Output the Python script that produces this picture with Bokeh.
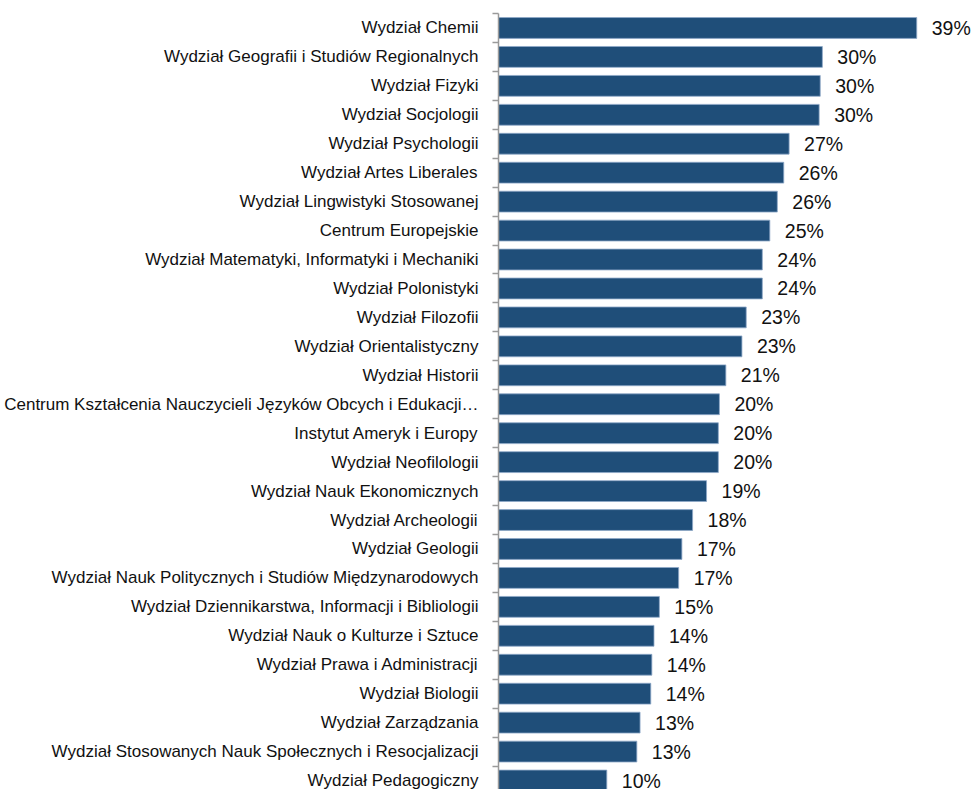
from bokeh.plotting import figure
from bokeh.models import ColumnDataSource, LabelSet, Range1d, FixedTicker
from bokeh.core.properties import value
from bokeh.embed import file_html
from bokeh.resources import INLINE

categories = [
    "Wydział Chemii",
    "Wydział Geografii i Studiów Regionalnych",
    "Wydział Fizyki",
    "Wydział Socjologii",
    "Wydział Psychologii",
    "Wydział Artes Liberales",
    "Wydział Lingwistyki Stosowanej",
    "Centrum Europejskie",
    "Wydział Matematyki, Informatyki i Mechaniki",
    "Wydział Polonistyki",
    "Wydział Filozofii",
    "Wydział Orientalistyczny",
    "Wydział Historii",
    "Centrum Kształcenia Nauczycieli Języków Obcych i Edukacji…",
    "Instytut Ameryk i Europy",
    "Wydział Neofilologii",
    "Wydział Nauk Ekonomicznych",
    "Wydział Archeologii",
    "Wydział Geologii",
    "Wydział Nauk Politycznych i Studiów Międzynarodowych",
    "Wydział Dziennikarstwa, Informacji i Bibliologii",
    "Wydział Nauk o Kulturze i Sztuce",
    "Wydział Prawa i Administracji",
    "Wydział Biologii",
    "Wydział Zarządzania",
    "Wydział Stosowanych Nauk Społecznych i Resocjalizacji",
    "Wydział Pedagogiczny",
]
values = [39.0, 30.2, 30.0, 29.9, 27.1, 26.6, 26.0, 25.3, 24.6, 24.6, 23.1, 22.7,
          21.2, 20.6, 20.5, 20.5, 19.4, 18.1, 17.1, 16.8, 15.0, 14.5, 14.3, 14.2,
          13.2, 12.9, 10.1]
value_labels = ["39%", "30%", "30%", "30%", "27%", "26%", "26%", "25%", "24%",
                "24%", "23%", "23%", "21%", "20%", "20%", "20%", "19%", "18%",
                "17%", "17%", "15%", "14%", "14%", "14%", "13%", "13%", "10%"]

n = len(categories)
ys = [n - 1 - i for i in range(n)]
boundaries = [k + 0.5 for k in range(-1, n)]

src = ColumnDataSource(dict(y=ys, v=values, cat=categories, lab=value_labels))

FONT = "Liberation Sans"

p = figure(width=972, height=789, output_backend="svg", toolbar_location=None,
           x_range=Range1d(0, 44.2), y_range=Range1d(n - 0.5 - 26.81, n - 0.5),
           x_axis_location=None, min_border_left=498, min_border_right=0,
           min_border_top=13, min_border_bottom=0, outline_line_color=None)
p.background_fill_color = "white"
p.border_fill_color = "white"
p.xgrid.visible = False
p.ygrid.visible = False

p.hbar(y="y", right="v", left=0, height=0.72, source=src,
       fill_color="#1F4E79", line_color="#8EA9C8", line_width=1, line_alpha=0.8)

ax = p.yaxis[0]
ax.ticker = FixedTicker(ticks=ys, minor_ticks=boundaries)
ax.major_label_overrides = {y: c for y, c in zip(ys, categories)}
ax.major_label_text_font = FONT
ax.major_label_text_font_size = "17px"
ax.major_label_text_color = "#111111"
ax.major_label_standoff = 14
ax.axis_line_color = "#9A9A9A"
ax.axis_line_width = 1.5
ax.major_tick_line_color = None
ax.major_tick_out = 0
ax.major_tick_in = 0
ax.minor_tick_line_color = "#9A9A9A"
ax.minor_tick_line_width = 1.5
ax.minor_tick_out = 6
ax.minor_tick_in = 0

val_labels = LabelSet(x="v", y="y", text="lab", source=src, x_offset=15,
                      text_align="left", text_baseline="middle",
                      text_font=value(FONT), text_font_size=value("19.5px"),
                      text_color="#111111")
p.add_layout(val_labels)

open("out.html", "w").write(file_html(p, INLINE))
